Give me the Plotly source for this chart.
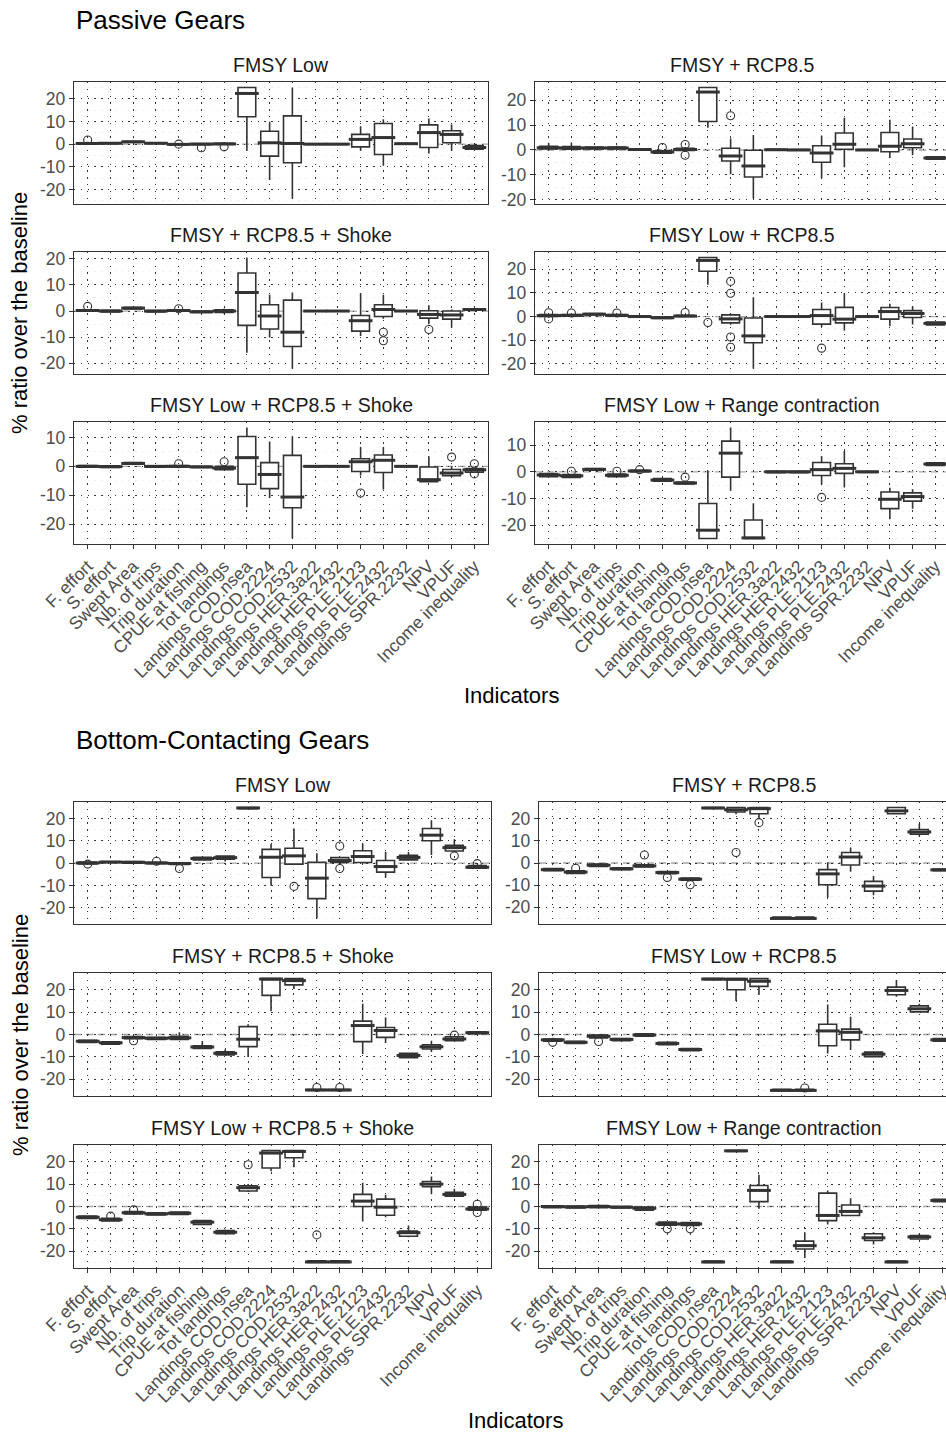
import plotly.graph_objects as go

# ---------------- data ----------------
categories = ["F. effort", "S. effort", "Swept Area", "Nb. of trips", "Trip duration",
              "CPUE at fishing", "Tot landings", "Landings COD.nsea", "Landings COD.2224",
              "Landings COD.2532", "Landings HER.3a22", "Landings HER.2432",
              "Landings PLE.2123", "Landings PLE.2432", "Landings SPR.2232", "NPV", "VPUF",
              "Income inequality"]

# each row: (lower whisker, q1, median, q3, upper whisker) per category
# ---- Passive Gears ----
pas_fmsy_low = [(-0.3, 0.0, 0.3, 0.6, 1.0), (0.0, 0.2, 0.4, 0.6, 0.8), (0.6, 0.8, 1.0, 1.3, 1.5),
                (0.1, 0.3, 0.4, 0.6, 0.8), (-0.5, -0.4, -0.1, 0.2, 0.4), (-0.4, -0.2, 0.0, 0.3, 0.5),
                (-0.3, -0.1, 0.1, 0.4, 0.6), (-2.9, 12.1, 22.4, 25, 25), (-15.9, -5.3, 0.6, 5.7, 9.9),
                (-24, -8.2, 0.3, 12.5, 25), (-0.2, -0.1, 0.0, 0.1, 0.2), (-0.2, -0.1, 0.0, 0.1, 0.2),
                (-2.9, -1.2, 2.1, 4.3, 7.9), (-9.6, -4.6, 2.9, 9.1, 11), (-0.1, 0.0, 0.2, 0.3, 0.5),
                (-4.1, -1.5, 5.1, 8.5, 11.3), (-2.9, 0.6, 4.3, 5.9, 8.7), (-2.4, -2.2, -1.5, -0.6, -0.4)]
pas_fmsy_low_out = [("F. effort", 1.8), ("Trip duration", 0.0), ("CPUE at fishing", -1.6),
                    ("Tot landings", -1.2)]

pas_fmsy_rcp = [(0.0, 0.4, 0.9, 1.5, 2.9), (0.0, 0.3, 0.8, 1.4, 3.0), (0.2, 0.4, 0.8, 1.2, 1.5),
                (0.2, 0.4, 0.8, 1.2, 1.7), (-0.1, 0.0, 0.2, 0.5, 0.7), (-1.5, -1.3, -0.8, -0.3, -0.1),
                (-0.8, -0.2, 0.2, 0.7, 1.2), (8.9, 11.4, 23.2, 25, 25), (-9.7, -4.4, -2.4, 0.7, 4.6),
                (-19.4, -10.8, -6.4, -0.1, 6.0), (-0.1, 0.0, 0.1, 0.3, 0.4), (-0.2, -0.1, 0.0, 0.2, 0.3),
                (-11.3, -4.9, -1.2, 1.7, 5.8), (-6.9, 0.3, 2.3, 6.8, 12.9), (-0.2, -0.1, 0.0, 0.2, 0.3),
                (-3.2, -0.7, 1.5, 7.0, 12.1), (-2.1, 0.9, 2.5, 4.4, 9.4), (-3.9, -3.7, -3.2, -2.7, -2.5)]
pas_fmsy_rcp_out = [("CPUE at fishing", 1.0), ("Tot landings", 2.2), ("Tot landings", -2.1),
                    ("Landings COD.2224", 13.7)]

pas_fmsy_rcp_shoke = [(-0.2, 0.0, 0.2, 0.5, 0.8), (-0.5, -0.3, 0.0, 0.3, 0.5), (0.6, 0.8, 1.1, 1.4, 1.6),
                      (-0.5, -0.3, 0.0, 0.2, 0.4), (-0.2, 0.0, 0.2, 0.4, 0.6), (-0.7, -0.5, -0.3, 0.0, 0.2),
                      (-1.0, -0.5, 0.0, 0.5, 1.0), (-16.0, -5.5, 7.1, 14.6, 20.5), (-10.1, -6.9, -1.9, 2.4, 6.2),
                      (-22.0, -13.6, -8.1, 4.2, 7.1), (-0.2, -0.1, 0.0, 0.1, 0.2), (-0.2, -0.1, 0.0, 0.1, 0.2),
                      (-9.6, -7.7, -3.7, -1.7, 6.8), (-3.0, -2.1, 0.6, 2.4, 6.2), (-0.2, -0.1, 0.0, 0.1, 0.2),
                      (-5.1, -2.7, -1.3, 0.1, 2.2), (-6.3, -3.1, -1.5, 0.0, 0.6), (0.3, 0.4, 0.6, 0.9, 1.0)]
pas_fmsy_rcp_shoke_out = [("F. effort", 1.8), ("Trip duration", 0.9), ("Landings PLE.2432", -8.1),
                          ("Landings PLE.2432", -11.4), ("NPV", -7.1)]

pas_low_rcp = [(-0.5, 0.0, 0.4, 0.8, 1.0), (0.0, 0.2, 0.5, 0.8, 1.0), (0.5, 0.7, 1.0, 1.3, 1.5),
               (0.0, 0.2, 0.5, 0.8, 1.0), (-0.5, -0.3, 0.0, 0.3, 0.5), (-1.0, -0.8, -0.5, -0.2, 0.0),
               (-0.2, 0.0, 0.2, 0.5, 0.8), (13.5, 19.2, 23.8, 25, 25), (-3.5, -2.7, -1.0, 0.7, 1.3),
               (-22.0, -11.1, -8.2, -0.6, 8.2), (-0.2, -0.1, 0.0, 0.1, 0.2), (-0.2, -0.1, 0.0, 0.1, 0.2),
               (-4.4, -3.2, 0.4, 3.0, 5.9), (-5.9, -2.7, -1.1, 3.9, 10.0), (-0.2, -0.1, 0.0, 0.1, 0.2),
               (-4.1, -1.1, 2.1, 3.8, 5.4), (-3.4, -0.4, 1.3, 2.5, 4.4), (-3.8, -3.6, -2.9, -2.3, -2.1)]
pas_low_rcp_out = [("F. effort", 1.6), ("F. effort", -1.0), ("S. effort", 1.5), ("Nb. of trips", 1.5),
                   ("Tot landings", 1.7), ("Landings COD.nsea", -2.5), ("Landings COD.2224", 14.9),
                   ("Landings COD.2224", 9.9), ("Landings COD.2224", -8.7), ("Landings COD.2224", -13.0),
                   ("Landings PLE.2123", -13.4)]

pas_low_rcp_shoke = [(-0.5, -0.3, 0.0, 0.3, 0.5), (-0.6, -0.4, -0.1, 0.2, 0.4), (0.5, 0.7, 1.0, 1.3, 1.5),
                     (-0.5, -0.3, 0.0, 0.2, 0.4), (-0.4, -0.2, 0.0, 0.3, 0.5), (-0.6, -0.4, -0.2, 0.0, 0.2),
                     (-1.4, -1.2, -0.6, 0.0, 0.3), (-14.1, -6.2, 3.0, 10.3, 13.4), (-10.9, -7.7, -2.8, 1.3, 8.6),
                     (-24.9, -14.3, -10.6, 3.8, 10.3), (-0.2, -0.1, 0.0, 0.1, 0.2), (-0.2, -0.1, 0.0, 0.1, 0.2),
                     (-3.2, -1.8, 1.6, 2.6, 6.7), (-8.0, -2.1, 2.1, 3.9, 6.7), (-0.2, -0.1, 0.0, 0.1, 0.2),
                     (-5.5, -5.3, -4.6, -0.2, 3.4), (-3.7, -3.2, -2.3, -1.1, 0.0), (-2.2, -2.0, -1.2, -0.8, -0.6)]
pas_low_rcp_shoke_out = [("Trip duration", 0.9), ("Tot landings", 1.6), ("Landings PLE.2123", -9.2),
                         ("VPUF", 3.2), ("Income inequality", 0.9), ("Income inequality", -2.6)]

pas_low_range = [(-2.0, -1.8, -1.2, -0.7, -0.5), (-2.3, -2.1, -1.5, -1.0, -0.8), (0.4, 0.6, 0.9, 1.2, 1.4),
                 (-2.0, -1.8, -1.3, -0.8, -0.6), (-0.2, 0.0, 0.3, 0.6, 0.7), (-3.7, -3.5, -3.1, -2.5, -2.3),
                 (-4.8, -4.6, -4.2, -3.8, -3.6), (-25, -25, -21.9, -11.9, 0.4), (-7.1, -2.0, 7.0, 11.5, 16.6),
                 (-25, -25, -24.8, -18.1, -11.8), (-0.4, -0.3, 0.0, 0.2, 0.3), (-0.4, -0.3, 0.0, 0.2, 0.3),
                 (-4.9, -1.4, 0.8, 3.5, 5.8), (-5.9, -0.6, 1.3, 3.0, 7.8), (-0.3, -0.2, 0.0, 0.1, 0.2),
                 (-17.8, -13.8, -10.3, -7.6, -6.0), (-13.9, -11.0, -9.3, -7.9, -6.5), (2.2, 2.4, 2.9, 3.4, 3.6)]
pas_low_range_out = [("S. effort", 0.2), ("Nb. of trips", 0.2), ("Trip duration", 0.8),
                     ("Tot landings", -2.0), ("Landings PLE.2123", -9.6)]

# ---- Bottom-Contacting Gears ----
bot_fmsy_low = [(-0.6, -0.3, 0.1, 0.5, 0.8), (0.1, 0.3, 0.5, 0.8, 1.0), (-0.2, 0.0, 0.4, 0.7, 0.9),
                (-0.4, -0.2, 0.1, 0.4, 0.6), (-0.7, -0.5, -0.1, 0.2, 0.4), (1.2, 1.5, 2.1, 2.7, 3.0),
                (0.8, 1.8, 2.5, 3.2, 3.6), (24.2, 24.5, 24.8, 25, 25), (-10.0, -6.4, 2.7, 6.2, 8.6),
                (-0.6, -0.4, 3.3, 6.7, 15.6), (-24.8, -15.9, -6.7, 0.4, 4.5), (-0.3, 0.3, 1.2, 2.5, 2.8),
                (0.0, 0.3, 3.0, 5.6, 8.9), (-6.4, -4.0, -1.5, 1.2, 5.2), (1.2, 1.5, 2.6, 3.6, 5.0),
                (3.7, 10.1, 12.6, 15.6, 19.3), (5.0, 5.5, 7.0, 8.0, 10.8), (-2.5, -2.2, -1.8, -1.0, -0.6)]
bot_fmsy_low_out = [("F. effort", -0.4), ("Nb. of trips", 0.9), ("Trip duration", -2.4),
                    ("Landings COD.2532", -10.4), ("Landings HER.2432", 7.7), ("Landings HER.2432", -2.4),
                    ("VPUF", 3.3), ("Income inequality", -0.2)]

bot_fmsy_rcp = [(-3.7, -3.5, -3.0, -2.5, -2.3), (-4.9, -4.7, -4.1, -3.5, -3.3), (-1.7, -1.5, -1.0, -0.5, -0.3),
                (-3.2, -3.0, -2.6, -2.2, -2.0), (-2.0, -1.8, -1.3, -0.8, -0.6), (-5.0, -4.8, -4.3, -3.8, -3.6),
                (-8.0, -7.8, -7.3, -6.8, -6.6), (24.4, 24.6, 24.8, 25, 25), (22.0, 23.0, 24.0, 25.0, 25.0),
                (20.0, 22.2, 24.5, 25.0, 25.0), (-25, -25, -25, -24.4, -24.2), (-25, -25, -25, -24.4, -24.2),
                (-15.6, -9.8, -4.9, -3.0, 0.3), (-4.0, -0.9, 2.7, 4.7, 7.0), (-14.5, -12.7, -10.4, -8.3, -5.9),
                (22.0, 22.2, 23.5, 25.0, 25.0), (11.9, 13.0, 14.0, 15.1, 17.8), (-3.7, -3.5, -3.1, -2.7, -2.5)]
bot_fmsy_rcp_out = [("S. effort", -2.4), ("Trip duration", 3.6), ("CPUE at fishing", -6.5),
                    ("Tot landings", -9.8), ("Landings COD.2224", 4.7), ("Landings COD.2532", 18.2)]

bot_fmsy_rcp_shoke = [(-3.8, -3.6, -3.0, -2.6, -2.4), (-4.5, -4.3, -3.7, -3.3, -3.1), (-2.1, -1.9, -1.4, -0.9, -0.7),
                      (-2.4, -2.2, -1.7, -1.2, -1.0), (-2.5, -2.2, -1.5, -0.8, 1.0), (-6.4, -6.2, -5.6, -5.0, -3.0),
                      (-9.4, -9.1, -8.4, -7.7, -6.6), (-10.1, -5.4, -2.1, 3.5, 4.6), (10.4, 17.5, 24.8, 25, 25),
                      (20.4, 22.2, 24.1, 25, 25), (-25, -25, -24.8, -24.6, -24.4), (-25, -25, -24.8, -24.6, -24.4),
                      (-8.7, -3.2, 4.0, 6.0, 13.8), (-3.8, -1.3, 1.8, 3.1, 7.6), (-10.6, -10.4, -9.4, -8.4, -8.2),
                      (-7.8, -6.5, -5.5, -4.6, -2.8), (-3.0, -2.8, -2.0, -1.0, -0.8), (0.2, 0.4, 0.8, 1.2, 1.4)]
bot_fmsy_rcp_shoke_out = [("Swept Area", -2.8), ("Landings HER.3a22", -23.7), ("Landings HER.2432", -23.7),
                          ("VPUF", -0.3)]

bot_low_rcp = [(-3.2, -3.0, -2.4, -2.0, -1.8), (-4.2, -4.0, -3.5, -3.0, -2.8), (-1.7, -1.5, -0.8, -0.3, -0.1),
               (-3.0, -2.8, -2.2, -1.8, -1.6), (-1.0, -0.8, -0.2, 0.3, 0.5), (-4.8, -4.6, -4.0, -3.5, -3.3),
               (-7.4, -7.2, -6.7, -6.3, -6.1), (24.3, 24.5, 24.8, 25, 25), (15.0, 20.0, 24.7, 25, 25),
               (17.8, 21.5, 23.8, 25, 25), (-25, -25, -25, -24.5, -24.3), (-25, -25, -25, -24.5, -24.3),
               (-8.5, -5.0, 1.6, 4.6, 13.4), (-6.9, -2.4, 1.0, 2.4, 7.9), (-10.1, -9.9, -8.8, -7.9, -7.7),
               (16.9, 17.8, 19.7, 21.2, 24.4), (10.0, 10.1, 11.5, 12.8, 13.8), (-3.2, -3.0, -2.4, -1.8, -1.6)]
bot_low_rcp_out = [("F. effort", -3.5), ("Swept Area", -3.1), ("Landings HER.2432", -23.9)]

bot_low_rcp_shoke = [(-5.5, -5.3, -4.8, -4.3, -4.1), (-6.7, -6.5, -5.9, -5.3, -5.1), (-3.5, -3.3, -2.8, -2.3, -2.1),
                     (-4.0, -3.8, -3.3, -2.8, -2.6), (-3.7, -3.5, -3.0, -2.5, -2.3), (-8.2, -8.0, -7.0, -6.3, -6.1),
                     (-12.4, -12.2, -11.5, -10.7, -10.3), (6.5, 6.9, 8.4, 9.3, 10.1), (15.8, 17.2, 23.9, 25, 25),
                     (17.6, 21.8, 24.6, 25, 25), (-25, -25, -24.8, -24.3, -24.1), (-25, -25, -24.8, -24.3, -24.1),
                     (-6.7, 0.0, 2.4, 5.4, 10.6), (-4.8, -3.9, -0.3, 3.3, 5.2), (-13.8, -13.3, -11.7, -11.0, -8.5),
                     (5.5, 8.8, 10.0, 11.2, 13.4), (4.4, 4.6, 5.4, 6.4, 7.9), (-1.8, -1.6, -1.1, -0.3, -0.1)]
bot_low_rcp_shoke_out = [("S. effort", -4.3), ("Swept Area", -1.5), ("Landings COD.nsea", 18.7),
                         ("Landings HER.3a22", -12.7), ("Income inequality", 1.0), ("Income inequality", -2.7)]

bot_low_range = [(-0.7, -0.5, 0.0, 0.3, 0.5), (-0.8, -0.6, -0.2, 0.2, 0.4), (-1.0, -0.5, 0.0, 0.4, 1.0),
                 (-0.9, -0.7, -0.3, 0.0, 0.2), (-1.8, -1.6, -0.8, -0.3, -0.1), (-8.6, -8.4, -7.8, -7.0, -6.8),
                 (-8.7, -8.5, -7.8, -7.2, -7.0), (-25, -25, -24.8, -24.4, -24.2), (24.4, 24.6, 24.9, 25, 25),
                 (-1.0, 2.2, 7.2, 9.4, 14.2), (-25, -25, -24.8, -24.4, -24.2), (-23.0, -19.0, -17.5, -15.5, -11.5),
                 (-8.1, -6.3, -4.0, 6.0, 7.2), (-4.0, -4.0, -2.2, 0.7, 3.7), (-17.0, -15.2, -14.0, -12.2, -11.5),
                 (-25, -25, -24.8, -24.4, -24.2), (-14.7, -14.5, -13.6, -13.0, -12.2), (2.0, 2.2, 2.7, 3.2, 3.4)]
bot_low_range_out = [("CPUE at fishing", -10.0), ("Tot landings", -10.0)]

facet_titles = ["FMSY Low", "FMSY + RCP8.5", "FMSY + RCP8.5 + Shoke", "FMSY Low + RCP8.5",
                "FMSY Low + RCP8.5 + Shoke", "FMSY Low + Range contraction"]
section_titles = ["Passive Gears", "Bottom-Contacting Gears"]
x_title = "Indicators"
y_title = "% ratio over the baseline"

section_data = [
    [(pas_fmsy_low, pas_fmsy_low_out), (pas_fmsy_rcp, pas_fmsy_rcp_out),
     (pas_fmsy_rcp_shoke, pas_fmsy_rcp_shoke_out), (pas_low_rcp, pas_low_rcp_out),
     (pas_low_rcp_shoke, pas_low_rcp_shoke_out), (pas_low_range, pas_low_range_out)],
    [(bot_fmsy_low, bot_fmsy_low_out), (bot_fmsy_rcp, bot_fmsy_rcp_out),
     (bot_fmsy_rcp_shoke, bot_fmsy_rcp_shoke_out), (bot_low_rcp, bot_low_rcp_out),
     (bot_low_rcp_shoke, bot_low_rcp_shoke_out), (bot_low_range, bot_low_range_out)],
]

# ---------------- layout geometry (pixels) ----------------
W, H = 946, 1432
FONT = "Liberation Sans, Arial, sans-serif"
INK = "#333333"
GRID = "#333333"
geom = [
    dict(title_y=20, rows=[(82, 204), (252, 374), (422, 544)], cols=[(74, 488), (535, 949)], xlab_y=695),
    dict(title_y=740, rows=[(802, 924), (973, 1096), (1145, 1268)], cols=[(74, 491), (539, 956)], xlab_y=1420),
]


def fx(px):
    return px / W


def fy(py):
    return 1 - py / H


fig = go.Figure()
layout = dict(template="none", width=W, height=H, margin=dict(l=0, r=0, t=0, b=0, pad=0),
              autosize=False, paper_bgcolor="white", plot_bgcolor="white", showlegend=False,
              font=dict(family=FONT), boxmode="overlay")
annotations = []
shapes = []
n = len(categories)

k = 0
for s, g in enumerate(geom):
    for p, (stats, outs) in enumerate(section_data[s]):
        k += 1
        r, c = divmod(p, 2)
        (ytop, ybot) = g["rows"][r]
        (x0, x1) = g["cols"][c]
        lo, q1, med, q3, hi = [list(v) for v in zip(*stats)]
        ox = [o[0] for o in outs]
        oy = [o[1] for o in outs]
        allv = lo + hi + oy
        vmin, vmax = min(allv), max(allv)
        pad = 0.05 * (vmax - vmin)
        ylo, yhi = vmin - pad, vmax + pad
        tvals = [t for t in range(-30, 31, 10) if ylo <= t <= yhi]
        xe = min(x1, W)
        xr_end = -0.6 + (n + 0.2) * (xe - x0) / (x1 - x0)
        xa = "x" if k == 1 else f"x{k}"
        ya = "y" if k == 1 else f"y{k}"
        sfx = "" if k == 1 else str(k)

        fig.add_trace(go.Box(x=categories, q1=q1, median=med, q3=q3, lowerfence=lo, upperfence=hi,
                             xaxis=xa, yaxis=ya, fillcolor="white", line=dict(color=INK, width=1.6),
                             width=0.78, whiskerwidth=0, boxpoints=False, hoverinfo="skip"))
        fig.add_trace(go.Scatter(x=categories, y=med, mode="markers", xaxis=xa, yaxis=ya,
                                 marker=dict(symbol="line-ew", size=17, color=INK,
                                             line=dict(color=INK, width=3)), hoverinfo="skip"))
        if ox:
            fig.add_trace(go.Scatter(x=ox, y=oy, mode="markers", xaxis=xa, yaxis=ya,
                                     marker=dict(symbol="circle-open", size=8, color=INK,
                                                 line=dict(color=INK, width=1.1)), hoverinfo="skip"))

        bottom_row = (r == 2)
        layout["xaxis" + sfx] = dict(
            domain=[fx(x0), fx(xe)], anchor=ya, type="category", categoryorder="array",
            categoryarray=categories, range=[-0.6, xr_end], automargin=False,
            showline=True, mirror=True, linecolor=INK, linewidth=1.4,
            showgrid=True, gridcolor=GRID, gridwidth=1.3, griddash="1.3px,5.5px", zeroline=False,
            ticks="outside" if bottom_row else "", ticklen=4, tickcolor=INK, tickwidth=1.2,
            showticklabels=bottom_row, tickangle=-45,
            tickfont=dict(size=17.5, color="#4D4D4D", family=FONT), fixedrange=True)
        layout["yaxis" + sfx] = dict(
            domain=[fy(ybot), fy(ytop)], anchor=xa, range=[ylo, yhi], automargin=False,
            tickmode="array", tickvals=tvals, ticktext=[str(t) for t in tvals],
            showline=True, mirror=(c == 0), linecolor=INK, linewidth=1.4,
            showgrid=True, gridcolor=GRID, gridwidth=1.3, griddash="1.3px,5.5px", zeroline=False,
            ticks="outside", ticklen=4, tickcolor=INK, tickwidth=1.2,
            tickfont=dict(size=17.5, color="#4D4D4D", family=FONT),
            minor=dict(tickmode="linear", tick0=5, dtick=10, showgrid=True, gridcolor="#EBEBEB",
                       gridwidth=1, ticks=""),
            fixedrange=True)
        shapes.append(dict(type="line", xref=f"{xa} domain", yref=ya, x0=0, x1=1, y0=0, y1=0,
                           line=dict(color="#A6A6A6", width=1.3, dash="7px,5px"), layer="below"))
        annotations.append(dict(text=facet_titles[p], xref="paper", yref="paper",
                                x=fx((x0 + min(x1, 949)) / 2), y=fy(ytop - 17), xanchor="center",
                                yanchor="middle", showarrow=False,
                                font=dict(size=19.5, color="#1A1A1A", family=FONT)))

    annotations.append(dict(text=section_titles[s], xref="paper", yref="paper", x=fx(74),
                            y=fy(g["title_y"]), xanchor="left", yanchor="middle", showarrow=False,
                            font=dict(size=26, color="black", family=FONT)))
    annotations.append(dict(text=x_title, xref="paper", yref="paper",
                            x=fx((g["cols"][0][0] + g["cols"][1][1]) / 2), y=fy(g["xlab_y"]),
                            xanchor="center", yanchor="middle", showarrow=False,
                            font=dict(size=22, color="black", family=FONT)))
    annotations.append(dict(text=y_title, xref="paper", yref="paper", x=fx(20),
                            y=fy((g["rows"][0][0] + g["rows"][2][1]) / 2), xanchor="center",
                            yanchor="middle", textangle=-90, showarrow=False,
                            font=dict(size=22, color="black", family=FONT)))

layout["annotations"] = annotations
layout["shapes"] = shapes
fig.update_layout(**layout)
fig.write_html("out.html")
